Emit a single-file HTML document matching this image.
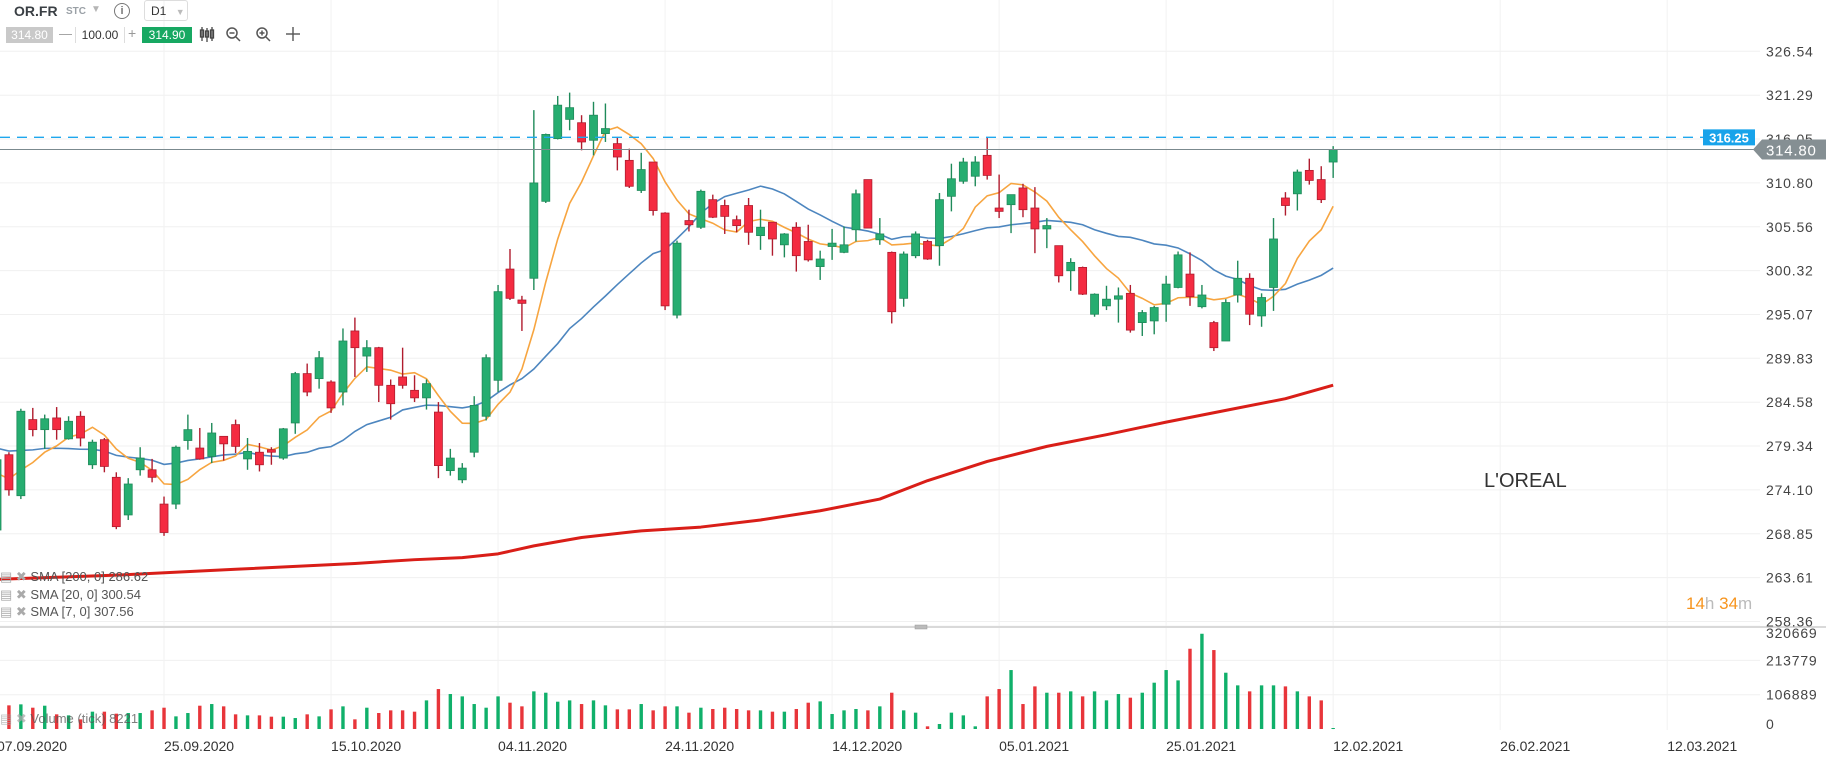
<!DOCTYPE html>
<html><head><meta charset="utf-8">
<style>
html,body{margin:0;padding:0;background:#fff;}
body{width:1826px;height:760px;overflow:hidden;position:relative;font-family:"Liberation Sans",sans-serif;}
svg{position:absolute;left:0;top:0;}
.tb{position:absolute;font-family:"Liberation Sans",sans-serif;}
</style></head>
<body>
<svg id="chart" width="1826" height="760" xmlns="http://www.w3.org/2000/svg"></svg>

<div class="tb" style="left:14px;top:3px;font-size:14px;font-weight:bold;color:#3a3f44;">OR.FR</div>
<div class="tb" style="left:66px;top:6px;font-size:10px;font-weight:bold;color:#9aa0a6;">STC</div>
<div class="tb" style="left:91px;top:4px;font-size:10px;color:#b5b5b5;">▼</div>
<div class="tb" style="left:114px;top:3px;width:14px;height:14px;border:1.5px solid #777;border-radius:50%;font-size:11px;color:#777;text-align:center;line-height:14px;font-weight:bold;">i</div>
<div class="tb" style="left:144px;top:0px;width:44px;height:21px;border:1px solid #ddd;border-radius:3px;font-size:12px;color:#333;line-height:21px;padding-left:6px;box-sizing:border-box;">D1 <span style="color:#bbb;font-size:9px;margin-left:6px">▼</span></div>
<div class="tb" style="left:6px;top:27px;width:47px;height:16px;background:#c9c9c9;color:#fff;font-size:12px;text-align:center;line-height:16px;">314.80</div>
<div class="tb" style="left:59px;top:26px;font-size:13px;color:#999;">—</div>
<div class="tb" style="left:75px;top:27px;width:48px;height:16px;color:#333;font-size:12px;text-align:center;line-height:16px;border-left:1px solid #ddd;border-right:1px solid #ddd;">100.00</div>
<div class="tb" style="left:128px;top:25px;font-size:14px;color:#999;">+</div>
<div class="tb" style="left:142px;top:27px;width:50px;height:16px;background:#17a862;color:#fff;font-size:12px;text-align:center;line-height:16px;">314.90</div>
<svg width="320" height="50" style="position:absolute;left:0;top:0">
 <g stroke="#444" stroke-width="1.3" fill="none">
  <line x1="202" y1="27" x2="202" y2="41"/><rect x="200.5" y="30" width="3" height="7"/>
  <line x1="207" y1="28" x2="207" y2="42"/><rect x="205.5" y="31" width="3" height="6"/>
  <line x1="212" y1="27" x2="212" y2="41"/><rect x="210.5" y="30" width="3" height="8"/>
 </g>
 <g stroke="#555" stroke-width="1.5" fill="none">
  <circle cx="232" cy="33" r="5"/><line x1="236" y1="37" x2="240" y2="41"/><line x1="229.5" y1="33" x2="234.5" y2="33"/>
 </g>
 <g stroke="#555" stroke-width="1.5" fill="none">
  <circle cx="262" cy="33" r="5"/><line x1="266" y1="37" x2="270" y2="41"/><line x1="259.5" y1="33" x2="264.5" y2="33"/><line x1="262" y1="30.5" x2="262" y2="35.5"/>
 </g>
 <g stroke="#555" stroke-width="1.4" fill="none">
  <line x1="293" y1="27" x2="293" y2="41"/><line x1="286" y1="34" x2="300" y2="34"/>
 </g>
</svg>

<div class="tb" style="left:1484px;top:470px;font-size:20px;color:#333;">L'OREAL</div>
<div class="tb" style="left:1686px;top:594px;font-size:17px;color:#bbb;"><span style="color:#f7941d">14</span>h <span style="color:#f7941d">34</span>m</div>

<div class="tb" style="left:0px;top:569px;font-size:13px;color:#555;white-space:nowrap;"><span style="color:#aaa">▤ ✖</span> SMA [200, 0] 286.62</div>
<div class="tb" style="left:0px;top:587px;font-size:13px;color:#555;white-space:nowrap;"><span style="color:#aaa">▤ ✖</span> SMA [20, 0] 300.54</div>
<div class="tb" style="left:0px;top:604px;font-size:13px;color:#555;white-space:nowrap;"><span style="color:#aaa">▤ ✖</span> SMA [7, 0] 307.56</div>
<div class="tb" style="left:0px;top:711px;font-size:13px;color:#555;opacity:0.75;white-space:nowrap;"><span style="color:#aaa">▤ ✖</span> Volume (tick) 8221</div>

<script>
const opens=[269.3,278.3,273.4,282.5,281.3,282.7,280.2,282.9,277.1,280.1,275.6,271.1,276.5,276.5,272.4,272.4,280.0,279.1,278.1,280.5,281.9,277.8,278.6,278.9,277.9,282.1,288.0,287.4,287.0,285.8,293.1,290.1,291.1,286.6,287.6,286.0,285.1,283.4,276.4,275.3,278.6,282.9,287.2,300.5,296.8,299.4,308.6,316.1,318.4,318.0,315.9,316.7,315.5,313.5,309.9,313.3,307.2,295.0,306.3,305.5,308.8,308.1,306.4,308.1,304.5,306.1,303.4,305.5,303.8,300.8,303.2,302.5,305.2,311.2,304.0,302.5,297.0,302.1,303.8,303.3,309.2,311.0,311.6,314.1,307.8,308.2,310.2,307.8,305.3,303.3,300.3,300.7,295.1,296.1,296.9,297.6,294.1,294.3,296.3,298.3,299.9,296.0,294.1,291.9,297.4,299.4,294.9,298.3,309.0,309.5,312.3,311.2,313.3];
const highs=[277.9,278.6,283.8,283.9,283.1,284.0,282.9,283.5,280.1,280.3,276.2,275.5,279.2,277.8,273.3,279.4,283.1,281.5,282.1,280.5,282.5,280.3,279.7,279.2,281.5,288.2,289.2,290.7,287.2,293.4,294.7,292.0,291.2,287.3,291.1,287.8,287.3,284.6,279.0,277.3,285.3,290.3,298.6,302.9,297.3,319.5,316.7,321.2,321.6,318.9,320.5,320.3,316.3,314.9,314.4,313.3,307.3,303.9,307.6,310.0,309.4,308.8,306.9,309.0,307.6,306.1,304.8,306.1,305.8,302.7,305.3,305.6,310.0,311.2,306.6,302.6,302.6,305.0,304.0,309.6,313.1,313.8,314.0,316.3,311.8,309.4,310.7,310.3,306.6,303.3,301.8,300.8,297.6,298.5,298.3,298.6,295.6,296.1,299.7,302.6,302.5,298.6,294.3,296.9,301.5,300.0,297.6,306.6,309.7,312.4,313.7,312.8,315.2];
const lows=[268.6,273.4,273.0,280.5,279.0,280.1,280.1,279.3,276.6,276.2,269.4,270.5,275.8,275.0,268.6,271.8,278.9,277.7,277.3,277.6,278.5,276.5,276.3,277.1,277.7,280.8,285.3,286.2,283.3,284.2,287.6,288.2,284.6,282.5,286.2,284.6,283.7,275.5,275.8,274.9,278.0,282.4,285.8,296.8,293.1,298.0,308.4,316.0,317.1,314.7,314.1,315.7,312.3,310.2,309.6,306.9,295.6,294.6,305.0,305.3,306.6,304.7,304.9,303.4,302.8,302.1,301.9,300.2,301.4,299.2,301.6,302.4,303.8,305.4,303.4,294.0,296.0,301.8,301.6,300.9,307.4,310.7,310.4,311.2,306.6,304.8,306.7,302.4,303.0,298.9,297.9,297.4,294.8,295.6,294.1,292.9,292.5,292.7,294.2,298.2,296.1,295.8,290.7,291.9,296.5,293.8,293.6,295.5,306.9,307.5,310.6,308.4,311.4];
const closes=[277.7,274.1,283.5,281.3,282.6,281.3,282.3,280.3,279.8,276.9,269.7,274.8,277.9,275.6,269.0,279.2,281.3,277.8,280.9,279.6,279.3,278.7,277.1,278.6,281.4,288.0,285.8,289.9,283.9,291.9,291.1,291.1,286.6,284.4,286.6,285.1,286.8,277.0,277.9,276.7,284.2,289.9,297.8,297.0,296.4,310.8,316.6,320.1,319.8,315.7,318.9,317.3,313.9,310.4,312.4,307.5,296.1,303.6,305.8,309.8,306.7,306.8,305.7,304.9,305.5,304.1,304.7,302.1,301.6,301.7,303.6,303.4,309.5,305.4,304.7,295.4,302.3,304.7,301.7,308.8,311.3,313.3,313.3,311.7,307.4,309.4,307.6,305.3,305.7,299.7,301.3,297.5,297.5,296.9,297.3,293.2,295.3,295.9,298.7,302.2,297.2,297.4,291.1,296.5,299.4,295.1,297.1,304.1,308.1,312.1,311.1,308.8,314.8];
const volumes=[75000,73700,76800,66400,72600,45700,42500,30100,54000,54000,47700,49800,49800,58100,66400,39400,49800,72600,77800,70600,45700,42500,42500,38400,38400,34200,45700,39400,61200,70600,30100,66400,49800,58100,58100,54000,89200,124500,109000,101700,77800,66400,101700,82000,70600,117300,113100,85100,89200,77800,89200,73700,61200,61200,77800,58100,70600,70600,50900,66400,62300,66400,62300,58100,58100,54000,54000,62300,82000,86100,46700,58100,62300,58100,70600,113100,58100,50900,8300,15600,50900,42500,8300,101700,124500,183700,77800,132800,113100,113100,117300,101700,117300,89200,109000,97600,113100,144300,183700,151500,250100,296800,246000,175400,136000,117300,136000,136000,132800,117300,101700,89200,3100];
const priorCloses=[281,282,280,279,281,283,282,280,281,280,279,281,280,279,276,275,274,276,275];
const sma200Idx=[0,10,20,30,35,39,42,45,49,54,59,64,69,74,78,83,88,93,98,103,108,112];
const sma200Val=[263.4,263.9,264.6,265.3,265.75,266.0,266.45,267.4,268.4,269.2,269.65,270.5,271.6,273.0,275.2,277.5,279.3,280.7,282.2,283.6,285.0,286.62];
const priceTicks=["326.54","321.29","316.05","310.80","305.56","300.32","295.07","289.83","284.58","279.34","274.10","268.85","263.61","258.36"];
const volTicks=["320669","213779","106889","0"];
const dateTicks=["07.09.2020","25.09.2020","15.10.2020","04.11.2020","24.11.2020","14.12.2020","05.01.2021","25.01.2021","12.02.2021","26.02.2021","12.03.2021"];
const lastPrice=314.80, alertPrice=316.25;

const NS="http://www.w3.org/2000/svg";
const svg=document.getElementById('chart');
const PMAX=326.54, PX_PER=8.363, Y0=51.3;
function yP(p){return Y0+(PMAX-p)*PX_PER;}
function xI(i){return -3+11.93*i;}
const VBASE=729, VPX=34.3/106889;
function yV(v){return VBASE-v*VPX;}
function mk(tag,attrs,parent){const e=document.createElementNS(NS,tag);for(const k in attrs)e.setAttribute(k,attrs[k]);(parent||svg).appendChild(e);return e;}

// grid
const grid=mk('g',{});


priceTicks.forEach(t=>{const y=yP(parseFloat(t));mk('line',{x1:0,x2:1760,y1:y,y2:y,stroke:'#f0f0f0','stroke-width':1},grid);});
volTicks.slice(0,3).forEach(t=>{const y=yV(parseFloat(t));mk('line',{x1:0,x2:1760,y1:y,y2:y,stroke:'#f0f0f0','stroke-width':1},grid);});
dateTicks.forEach((d,k)=>{const x=xI(14*k);mk('line',{x1:x,x2:x,y1:0,y2:730,stroke:'#f2f2f2','stroke-width':1},grid);});

// separator
const sep=mk('line',{x1:0,x2:1826,y1:627,y2:627,stroke:'#d9d9d9','stroke-width':2});


const hd=mk('rect',{x:915,y:625,width:12,height:4,fill:'#bbb',stroke:'#999','stroke-width':0.5});



// volume bars
const vg=mk('g',{});


volumes.forEach((v,i)=>{const up=closes[i]>=opens[i];const y=yV(v);
 const r=mk('rect',{x:xI(i)-1.7,y:y,width:3.4,height:VBASE-y,fill:up?'#10b06a':'#e8353a'},vg);
 
 
});

// SMA 200
const s200=mk('polyline',{points:sma200Idx.map((ix,k)=>xI(ix)+','+yP(sma200Val[k])).join(' '),fill:'none',stroke:'#d91e18','stroke-width':3,'stroke-linejoin':'round'});



// SMA 20 / 7 computed from closes
const all=priorCloses.concat(closes);
function sma(n){const out=[];for(let i=0;i<closes.length;i++){const j=i+priorCloses.length;let s=0,c=0;for(let k=Math.max(0,j-n+1);k<=j;k++){s+=all[k];c++;}out.push(s/c);}return out;}
const s20=mk('polyline',{points:sma(20).map((v,i)=>xI(i)+','+yP(v)).join(' '),fill:'none',stroke:'#4d86bf','stroke-width':1.6});


const s7=mk('polyline',{points:sma(7).map((v,i)=>xI(i)+','+yP(v)).join(' '),fill:'none',stroke:'#f7a540','stroke-width':1.6});



// candles
const cg=mk('g',{});


opens.forEach((o,i)=>{const c=closes[i];const up=c>=o;const x=xI(i);
 const g=mk('g',{},cg);
 
 
 const col=up?'#1f8a5a':'#b01c2e';
 mk('line',{x1:x,x2:x,y1:yP(highs[i]),y2:yP(lows[i]),stroke:col,'stroke-width':1.4},g);
 const top=yP(Math.max(o,c)),bot=yP(Math.min(o,c));
 mk('rect',{x:x-4,y:top,width:8,height:Math.max(1.5,bot-top),fill:up?'#26ad70':'#f42b41',stroke:col,'stroke-width':0.8},g);
});

// price lines
const al=mk('line',{x1:0,x2:1703,y1:yP(alertPrice),y2:yP(alertPrice),stroke:'#1ea7ee','stroke-width':1.4,'stroke-dasharray':'10 7'});


const ll=mk('line',{x1:0,x2:1755,y1:yP(lastPrice),y2:yP(lastPrice),stroke:'#7b8a8f','stroke-width':1});



// axis labels
priceTicks.forEach(t=>{const tx=mk('text',{x:1766,y:yP(parseFloat(t))+5,'font-size':14,fill:'#444','letter-spacing':'0.8','font-family':'Liberation Sans, sans-serif'});tx.textContent=t;
 
 });
volTicks.forEach((t,k)=>{const y=k===0?638:yV(parseFloat(t))+(k===3?0:5);const tx=mk('text',{x:1766,y:y,'font-size':14,fill:'#444','letter-spacing':'0.8','font-family':'Liberation Sans, sans-serif'});tx.textContent=t;
 
 });
dateTicks.forEach((d,k)=>{const tx=mk('text',{x:xI(14*k),y:751,'font-size':14,fill:'#333','font-family':'Liberation Sans, sans-serif'});tx.textContent=d;
 
 });

// alert label
const ab=mk('g',{});


mk('rect',{x:1703,y:yP(alertPrice)-8,width:52,height:16,fill:'#18a3ea'},ab);
const at=mk('text',{x:1729,y:yP(alertPrice)+5,'font-size':13,'font-weight':'bold',fill:'#fff','text-anchor':'middle','font-family':'Liberation Sans, sans-serif'},ab);at.textContent=alertPrice.toFixed(2);
// last price label
const lb=mk('g',{});


const ly=yP(lastPrice);
mk('polygon',{points:`1753,${ly} 1762,${ly-10} 1826,${ly-10} 1826,${ly+10} 1762,${ly+10}`,fill:'#858f93'},lb);
const lt=mk('text',{x:1766,y:ly+6,'font-size':15,fill:'#fff','letter-spacing':'0.8','font-family':'Liberation Sans, sans-serif'},lb);lt.textContent=lastPrice.toFixed(2);
</script>
</body></html>
